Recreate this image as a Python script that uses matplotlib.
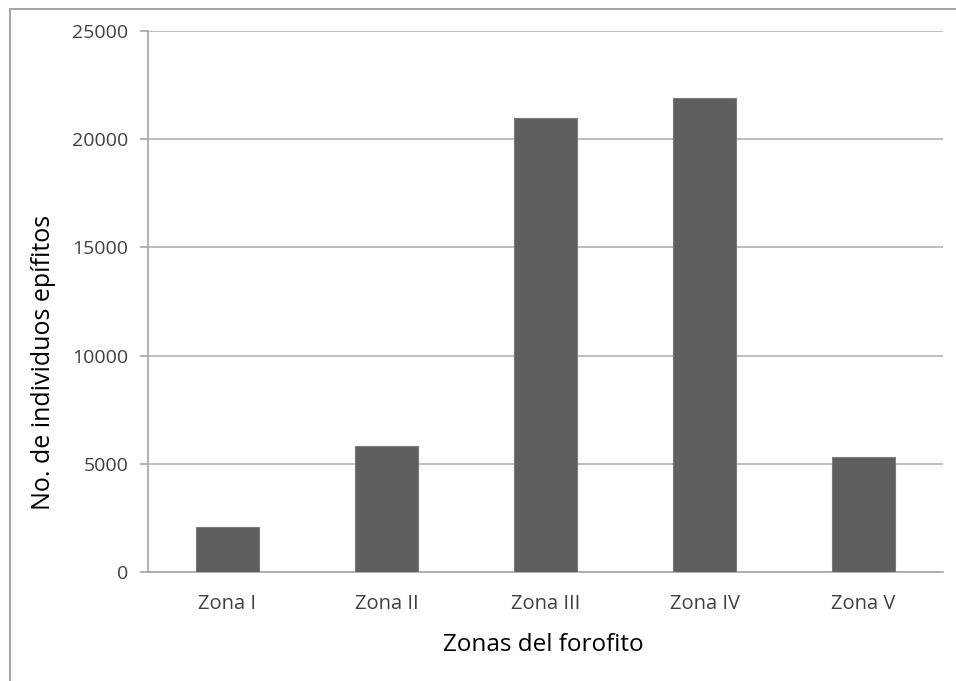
import matplotlib.pyplot as plt
from matplotlib.patches import Rectangle

zonas = ['Zona I', 'Zona II', 'Zona III', 'Zona IV', 'Zona V']
individuos = [2100, 5800, 21000, 21900, 5300]
yticks = [0, 5000, 10000, 15000, 20000, 25000]

plt.rcParams['font.family'] = ['Open Sans', 'DejaVu Sans']

W, H = 956, 681
fig = plt.figure(figsize=(W / 100, H / 100), dpi=100)
ax = fig.add_axes([148 / W, 1 - 572 / H, (943 - 148) / W, (572 - 31) / H])

# marco exterior
fig.patches.append(Rectangle((10 / W, -0.05), 1.2, 1 - 9 / H + 0.05,
                             transform=fig.transFigure, fill=False,
                             edgecolor='#a6a6a6', lw=1.5))

x = range(len(zonas))
ax.bar(x, individuos, width=0.4, color='#5f5f5f', edgecolor='#7a7a7a',
       lw=0.8, zorder=3)

ax.set_xlim(-0.5, len(zonas) - 0.5)
ax.set_ylim(0, 25000)
ax.set_yticks(yticks)
ax.set_xticks(list(x))
ax.set_xticklabels(zonas)
ax.grid(axis='y', color='#b3b3b3', lw=1.2, zorder=0)

for s in ['top', 'right']:
    ax.spines[s].set_visible(False)
ax.spines['left'].set_color('#a6a6a6')
ax.spines['bottom'].set_color('#a6a6a6')
ax.spines['left'].set_linewidth(1.2)
ax.spines['bottom'].set_linewidth(1.2)

ax.tick_params(axis='y', length=6, color='#a6a6a6', width=1.2,
               labelsize=14, labelcolor='#404040', pad=8)
ax.tick_params(axis='x', length=0, labelsize=14.5, labelcolor='#404040', pad=16)

ax.set_ylabel('No. de individuos epífitos', fontsize=18)
ax.yaxis.set_label_coords(-0.132, 0.388)
ax.yaxis.label.set_verticalalignment('center')
ax.set_xlabel('Zonas del forofito', fontsize=17.5)
ax.xaxis.set_label_coords(0.497, -0.135)
ax.xaxis.label.set_verticalalignment('center')

fig.savefig('out.png', dpi=100)
